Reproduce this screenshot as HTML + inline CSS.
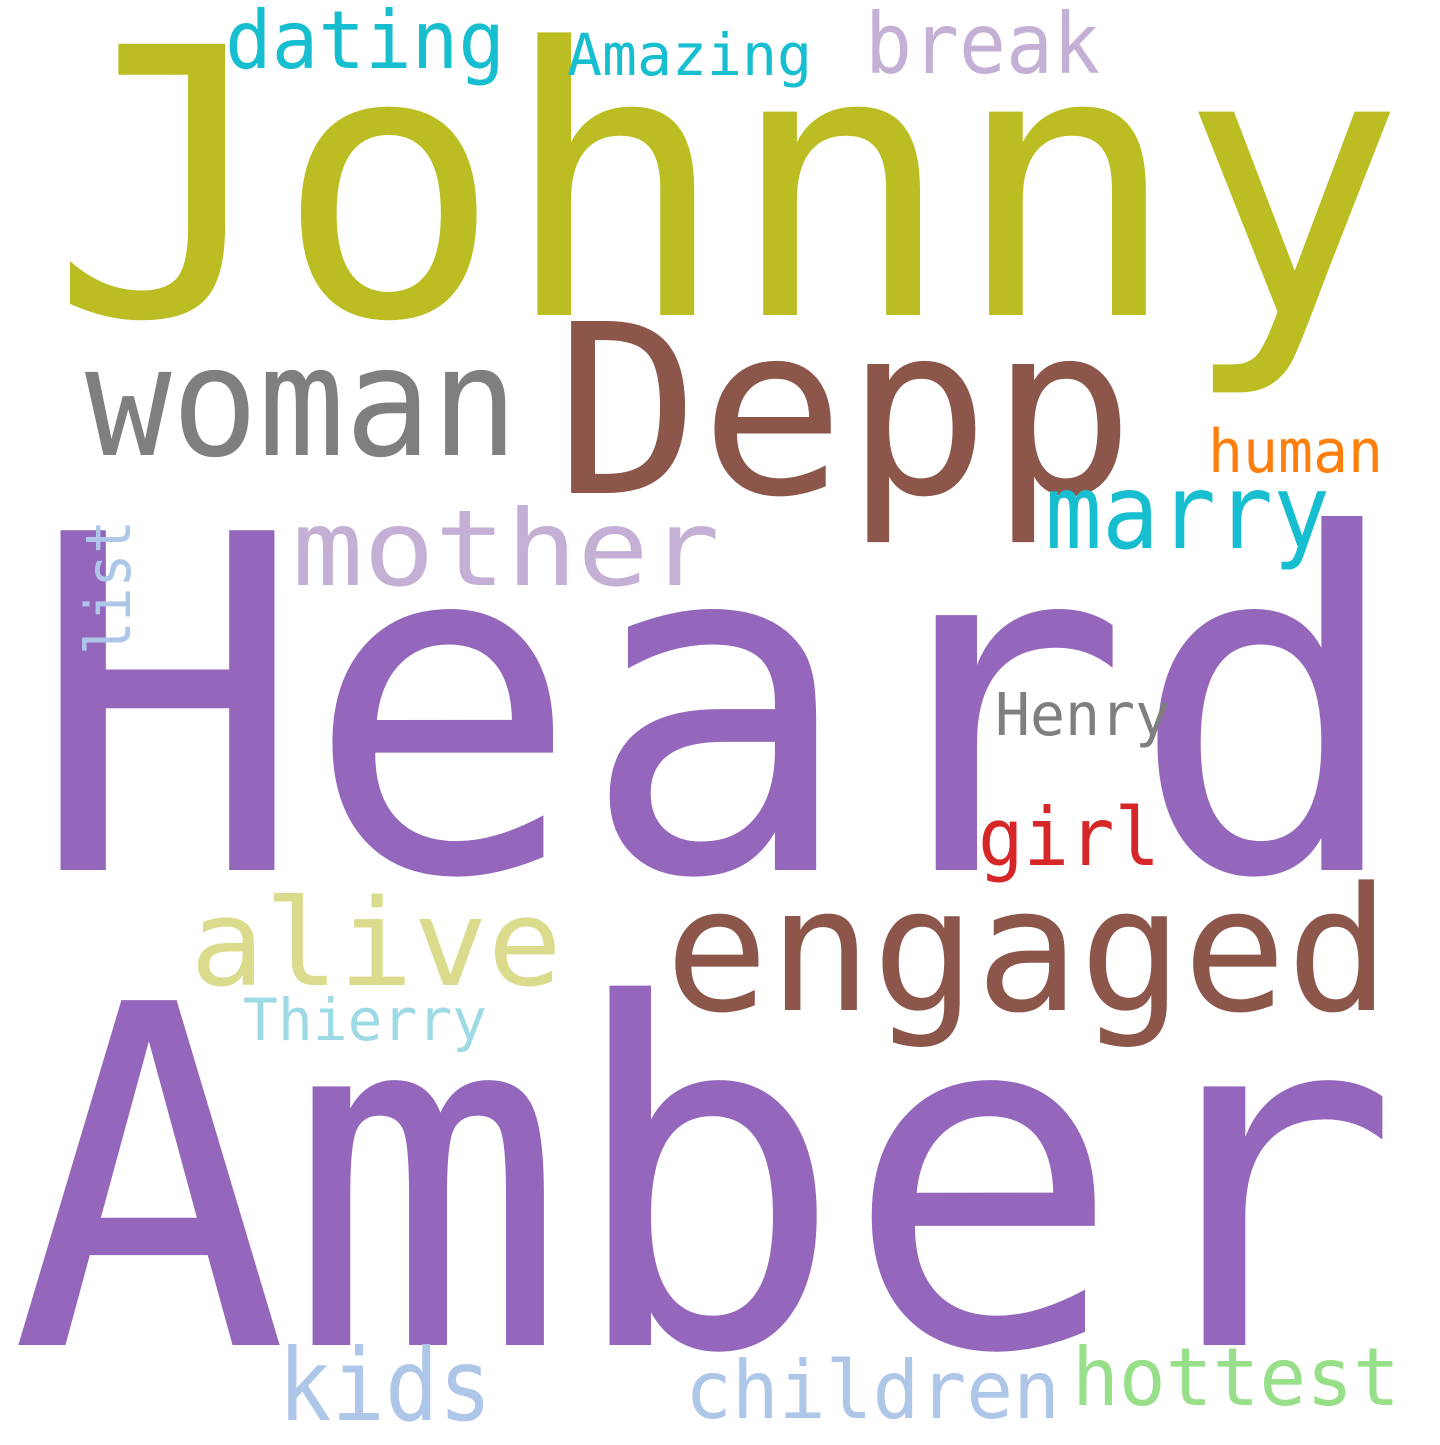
<!DOCTYPE html>
<html><head><meta charset="utf-8"><style>
html,body{margin:0;padding:0;background:#fff;}
svg text{font-family:"DejaVu Sans Mono","Liberation Mono",monospace;}
</style></head><body>
<svg width="1440" height="1440" viewBox="0 0 1440 1440" xmlns="http://www.w3.org/2000/svg">
<rect width="1440" height="1440" fill="#fff"/>
<text x="50" y="315" font-size="372" fill="#bcbd22" textLength="1355" lengthAdjust="spacingAndGlyphs">Johnny</text>
<text x="555" y="493" font-size="236" fill="#8c564b" textLength="580" lengthAdjust="spacingAndGlyphs">Depp</text>
<text x="85" y="455" font-size="152" fill="#7f7f7f" textLength="433" lengthAdjust="spacingAndGlyphs">woman</text>
<text x="225" y="68" font-size="80" fill="#17becf" textLength="280" lengthAdjust="spacingAndGlyphs">dating</text>
<text x="567" y="75" font-size="58" fill="#17becf" textLength="245" lengthAdjust="spacingAndGlyphs">Amazing</text>
<text x="865" y="73" font-size="84" fill="#c5b0d5" textLength="235" lengthAdjust="spacingAndGlyphs">break</text>
<text x="292" y="585" font-size="105" fill="#c5b0d5" textLength="428" lengthAdjust="spacingAndGlyphs">mother</text>
<text x="1045" y="548" font-size="103" fill="#17becf" textLength="285" lengthAdjust="spacingAndGlyphs">marry</text>
<text x="1208" y="472" font-size="60" fill="#ff7f0e" textLength="175" lengthAdjust="spacingAndGlyphs">human</text>
<text x="30" y="870" font-size="466" fill="#9467bd" textLength="1375" lengthAdjust="spacingAndGlyphs">Heard</text>
<text x="0" y="0" font-size="62" fill="#aec7e8" textLength="135" lengthAdjust="spacingAndGlyphs" transform="translate(130,655) rotate(-90)">list</text>
<text x="995" y="735" font-size="59" fill="#7f7f7f" textLength="175" lengthAdjust="spacingAndGlyphs">Henry</text>
<text x="978" y="865" font-size="80" fill="#d62728" textLength="182" lengthAdjust="spacingAndGlyphs">girl</text>
<text x="190" y="985" font-size="120" fill="#dbdb8d" textLength="372" lengthAdjust="spacingAndGlyphs">alive</text>
<text x="665" y="1010" font-size="172" fill="#8c564b" textLength="725" lengthAdjust="spacingAndGlyphs">engaged</text>
<text x="243" y="1040" font-size="58" fill="#9edae5" textLength="244" lengthAdjust="spacingAndGlyphs">Thierry</text>
<text x="10" y="1345" font-size="473" fill="#9467bd" textLength="1390" lengthAdjust="spacingAndGlyphs">Amber</text>
<text x="278" y="1420" font-size="100" fill="#aec7e8" textLength="214" lengthAdjust="spacingAndGlyphs">kids</text>
<text x="685" y="1418" font-size="80" fill="#aec7e8" textLength="375" lengthAdjust="spacingAndGlyphs">children</text>
<text x="1072" y="1405" font-size="80" fill="#98df8a" textLength="328" lengthAdjust="spacingAndGlyphs">hottest</text>
</svg>
</body></html>
